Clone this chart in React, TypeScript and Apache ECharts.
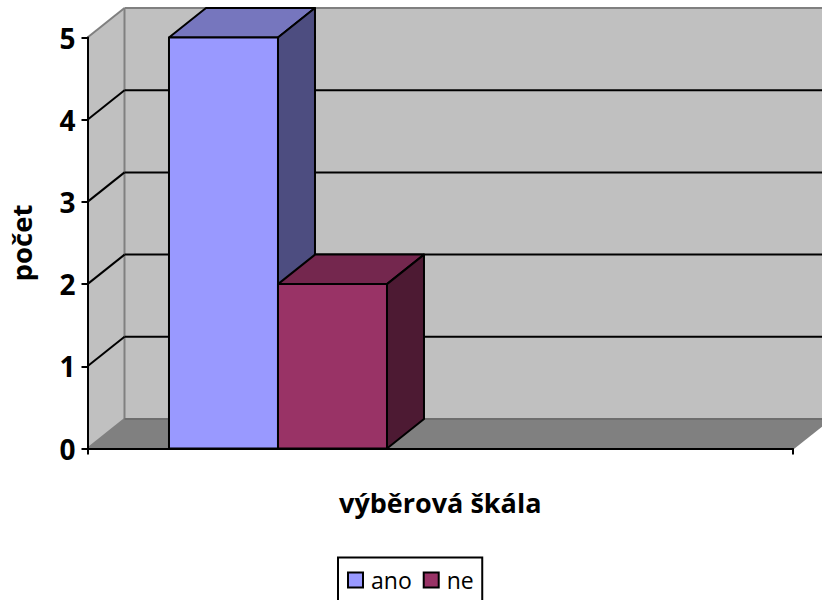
import React, { useEffect, useRef } from "react";
import * as echarts from "echarts";

const categories = [""];
const seriesNames = ["ano", "ne"];
const anoValues = [5];
const neValues = [2];
const yTicks = [0, 1, 2, 3, 4, 5];
const xTitle = "výběrová škála";
const yTitle = "počet";

const DX = 37;
const DY = -29.5;
const FONT = "'Open Sans', 'Noto Sans', sans-serif";

const faces = [
  { front: "#9999FF", top: "#7676BE", side: "#4D4D80" },
  { front: "#993366", top: "#74274E", side: "#4D1A33" },
];

// one category band; bars sit at these fractions of it
const BAR_START = 0.1155;
const BAR_WIDTH = 0.1545;

function bar(seriesIndex: number) {
  return (params: any, api: any) => {
    const cs = params.coordSys;
    const top = api.coord([0, api.value(1)])[1];
    const base = api.coord([0, 0])[1];
    const x0 = cs.x + cs.width * (BAR_START + BAR_WIDTH * seriesIndex);
    const x1 = x0 + cs.width * BAR_WIDTH;
    const f = faces[seriesIndex];
    const stroke = { stroke: "#000", lineWidth: 2, lineJoin: "round" };
    return {
      type: "group",
      children: [
        {
          type: "polygon",
          shape: { points: [[x0, top], [x0 + DX, top + DY], [x1 + DX, top + DY], [x1, top]] },
          style: { fill: f.top, ...stroke },
        },
        {
          type: "polygon",
          shape: { points: [[x1, top], [x1 + DX, top + DY], [x1 + DX, base + DY], [x1, base]] },
          style: { fill: f.side, ...stroke },
        },
        {
          type: "rect",
          shape: { x: x0, y: top, width: x1 - x0, height: base - top },
          style: { fill: f.front, ...stroke },
        },
      ],
    };
  };
}

function wall(params: any, api: any) {
  const cs = params.coordSys;
  const v = api.value(1);
  const y = api.coord([0, v])[1];
  const L = cs.x;
  const R = cs.x + cs.width;
  const isEdge = v === yTicks[0] || v === yTicks[yTicks.length - 1];
  const color = isEdge ? "#808080" : "#000";
  const lw = 2;
  const children: any[] = [];
  if (v === yTicks[0]) {
    const topY = cs.y;
    children.push(
      {
        type: "polygon",
        shape: { points: [[L + DX, topY + DY], [R + DX + 40, topY + DY], [R + DX + 40, y + DY], [L + DX, y + DY]] },
        style: { fill: "#C0C0C0" },
      },
      {
        type: "polygon",
        shape: { points: [[L, topY], [L + DX, topY + DY], [L + DX, y + DY], [L, y]] },
        style: { fill: "#C0C0C0" },
      },
      {
        type: "polygon",
        shape: { points: [[L, y], [L + DX, y + DY], [R + DX, y + DY], [R, y]] },
        style: { fill: "#808080" },
      },
      {
        type: "line",
        shape: { x1: L + DX, y1: topY + DY, x2: L + DX, y2: y + DY },
        style: { stroke: "#808080", lineWidth: 2 },
      }
    );
  }
  children.push(
    { type: "line", shape: { x1: L, y1: y, x2: L + DX, y2: y + DY }, style: { stroke: color, lineWidth: lw } },
    {
      type: "line",
      shape: { x1: L + DX, y1: y + DY, x2: R + DX + 40, y2: y + DY },
      style: { stroke: v === yTicks[0] ? "#6E6E6E" : color, lineWidth: lw },
    }
  );
  if (v === yTicks[0]) {
    children.push({
      type: "line",
      shape: { x1: R, y1: y, x2: R + DX, y2: y + DY },
      style: { stroke: "#808080", lineWidth: 2 },
    });
  }
  return { type: "group", children };
}

export default function App() {
  const ref = useRef<HTMLDivElement>(null);
  useEffect(() => {
    const chart = echarts.init(ref.current!, undefined, { renderer: "svg" });
    chart.setOption({
      animation: false,
      backgroundColor: "#fff",
      grid: { left: 87.5, right: 29, top: 37.5, bottom: 151.5, containLabel: false, outerBoundsMode: "none" },
      legend: {
        data: seriesNames,
        left: 338,
        top: 557.5,
        orient: "horizontal",
        itemWidth: 15,
        itemHeight: 15,
        itemGap: 11,
        borderColor: "#000",
        borderWidth: 2,
        padding: [11, 8.5, 11, 9],
        icon: "rect",
        textStyle: { fontFamily: FONT, fontSize: 23, color: "#000", padding: [0, 0, 0, 3] },
        selectedMode: false,
      },
      xAxis: {
        type: "category",
        data: categories,
        z: 5,
        name: xTitle,
        nameLocation: "middle",
        nameGap: 40,
        nameTextStyle: { fontFamily: FONT, fontSize: 27, fontWeight: "bold", color: "#000" },
        axisLine: { show: true, lineStyle: { color: "#000", width: 2 } },
        axisTick: { show: true, alignWithLabel: false, length: 6, lineStyle: { color: "#000", width: 2 } },
        axisLabel: { show: false },
      },
      yAxis: {
        type: "value",
        min: 0,
        max: 5,
        interval: 1,
        z: 5,
        name: yTitle,
        nameLocation: "middle",
        nameGap: 52,
        nameTextStyle: { fontFamily: FONT, fontSize: 27.5, fontWeight: "bold", color: "#000" },
        axisLine: { show: true, lineStyle: { color: "#000", width: 2 } },
        axisTick: { show: true, length: 6, lineStyle: { color: "#000", width: 2 } },
        axisLabel: { fontFamily: FONT, fontSize: 28, fontWeight: "bold", color: "#000", margin: 12, padding: [3, 0, 0, 0] },
        splitLine: { show: false },
      },
      series: [
        {
          type: "custom",
          name: "walls",
          z: 1,
          clip: false,
          silent: true,
          renderItem: wall,
          data: yTicks.map((t) => [0, t]),
        },
        {
          type: "custom",
          name: seriesNames[0],
          z: 2,
          clip: false,
          renderItem: bar(0),
          itemStyle: { color: faces[0].front, borderColor: "#000", borderWidth: 2 },
          data: anoValues.map((v, i) => [i, v]),
        },
        {
          type: "custom",
          name: seriesNames[1],
          z: 3,
          clip: false,
          renderItem: bar(1),
          itemStyle: { color: faces[1].front, borderColor: "#000", borderWidth: 2 },
          data: neValues.map((v, i) => [i, v]),
        },
      ],
    });
    return () => chart.dispose();
  }, []);
  return <div ref={ref} style={{ position: "absolute", left: 0, top: 0, width: 822, height: 600 }} />;
}
